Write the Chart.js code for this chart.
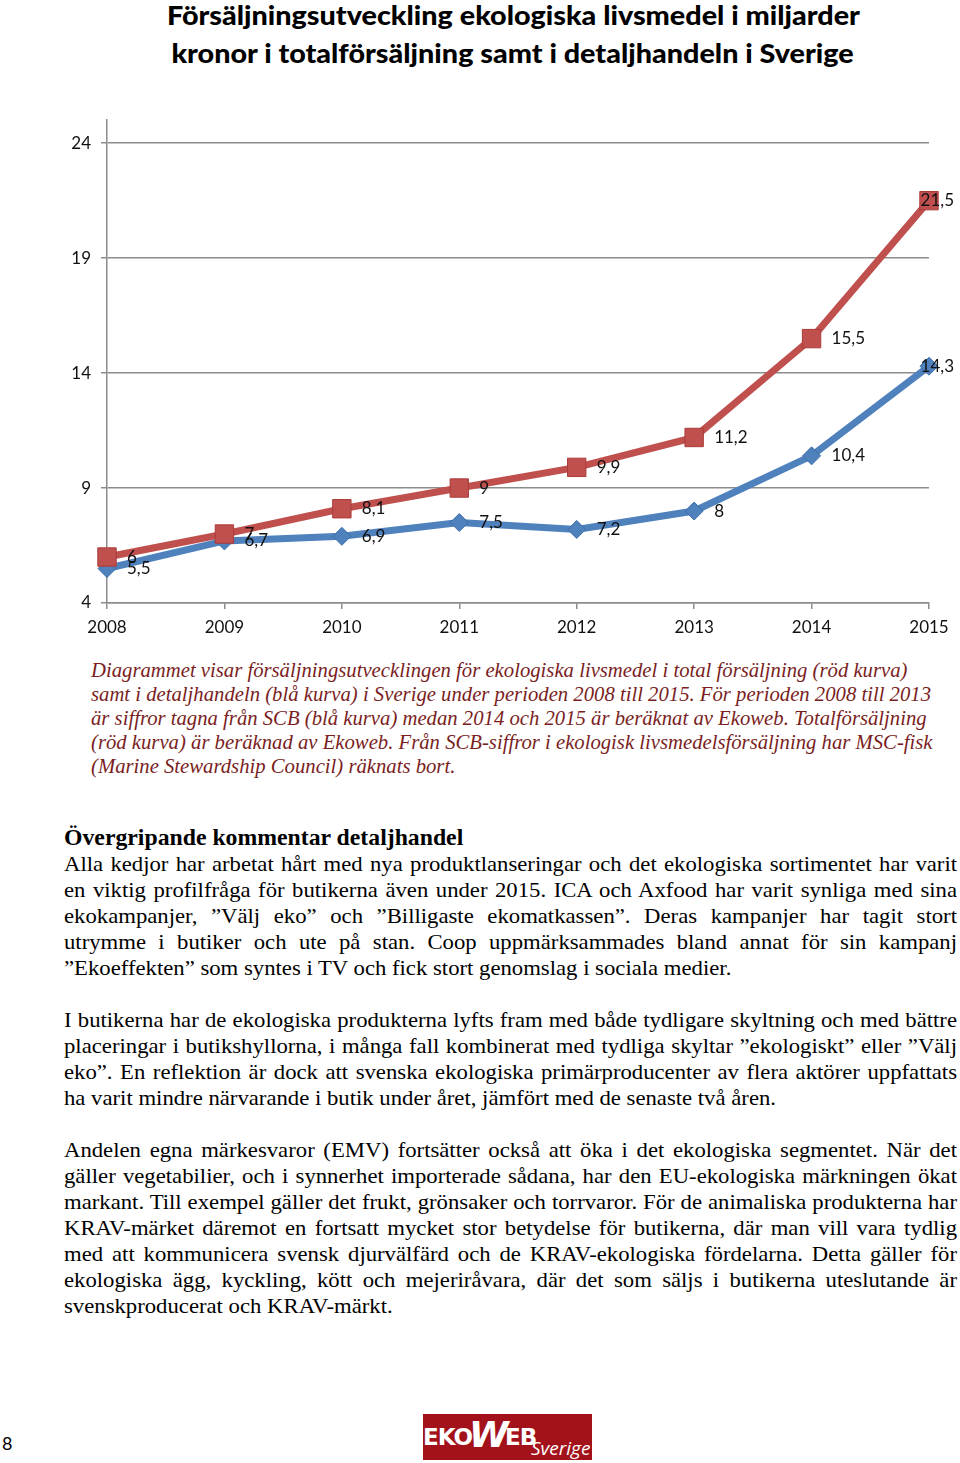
<!DOCTYPE html>
<html lang="sv">
<head>
<meta charset="utf-8">
<title>Försäljningsutveckling ekologiska livsmedel</title>
<script src="https://cdn.jsdelivr.net/npm/chart.js@4.4.1/dist/chart.umd.min.js"></script>
<style>
html, body { margin: 0; padding: 0; background: #fff; }
body { width: 960px; height: 1463px; position: relative; overflow: hidden; color: #000; }
.blk { position: absolute; transform-origin: 0 0; white-space: nowrap; }
.ln span { white-space: pre; }
#title { left: 33px; top: -4px; width: 960px; font-family: Lato, sans-serif; font-weight: 900;
  font-size: 26px; line-height: 38px; text-align: center; }
#title span { display: inline-block; transform-origin: 50% 50%; }
#chartBox { position: absolute; left: 60px; top: 100px; width: 900px; height: 545px; }
#caption { left: 91px; top: 658px; font-family: "Liberation Serif", serif; font-style: italic;
  font-size: 21px; line-height: 24px; color: #7a1e1e; }
#body { left: 64px; top: 825px; font-family: "Liberation Serif", serif; font-size: 22px; line-height: 26px; }
#body h2 { margin: 0; font-size: 23px; font-weight: bold; line-height: 26px; }
#body .par { margin-bottom: 26px; }
#pageno { position: absolute; left: 2px; top: 1432px; font-family: Lato, sans-serif; font-size: 18px; }
#logo { position: absolute; left: 423px; top: 1414px; width: 169px; height: 46px; background: #a3121a;
  color: #fff; overflow: hidden; font-family: "DejaVu Sans", sans-serif; }
#logo span { position: absolute; }
</style>
</head>
<body>

<div id="title" class="blk">
  <div class="ln"><span>Försäljningsutveckling ekologiska livsmedel i miljarder</span></div>
  <div class="ln"><span>kronor i totalförsäljning samt i detaljhandeln i Sverige</span></div>
</div>

<div id="chartBox"><canvas id="chart" width="900" height="545"></canvas></div>

<div id="caption" class="blk">
  <div class="ln"><span>Diagrammet visar försäljningsutvecklingen för ekologiska livsmedel i total försäljning (röd kurva)</span></div>
  <div class="ln" id="capRef"><span>samt i detaljhandeln (blå kurva) i Sverige under perioden 2008 till 2015. För perioden 2008 till 2013</span></div>
  <div class="ln"><span>är siffror tagna från SCB (blå kurva) medan 2014 och 2015 är beräknat av Ekoweb. Totalförsäljning</span></div>
  <div class="ln"><span>(röd kurva) är beräknad av Ekoweb. Från SCB-siffror i ekologisk livsmedelsförsäljning har MSC-fisk</span></div>
  <div class="ln"><span>(Marine Stewardship Council) räknats bort.</span></div>
</div>

<div id="body" class="blk">
  <h2>Övergripande kommentar detaljhandel</h2>
  <div class="par">
    <div class="ln j"><span>Alla kedjor har arbetat hårt med nya produktlanseringar och det ekologiska sortimentet har varit</span></div>
    <div class="ln j"><span>en viktig profilfråga för butikerna även under 2015. ICA och Axfood har varit synliga med sina</span></div>
    <div class="ln j"><span>ekokampanjer, ”Välj eko” och ”Billigaste ekomatkassen”. Deras kampanjer har tagit stort</span></div>
    <div class="ln j"><span>utrymme i butiker och ute på stan. Coop uppmärksammades bland annat för sin kampanj</span></div>
    <div class="ln last" data-w="667"><span>”Ekoeffekten” som syntes i TV och fick stort genomslag i sociala medier.</span></div>
  </div>
  <div class="par">
    <div class="ln j"><span>I butikerna har de ekologiska produkterna lyfts fram med både tydligare skyltning och med bättre</span></div>
    <div class="ln j"><span>placeringar i butikshyllorna, i många fall kombinerat med tydliga skyltar ”ekologiskt” eller ”Välj</span></div>
    <div class="ln j"><span>eko”. En reflektion är dock att svenska ekologiska primärproducenter av flera aktörer uppfattats</span></div>
    <div class="ln last" data-w="709"><span>ha varit mindre närvarande i butik under året, jämfört med de senaste två åren.</span></div>
  </div>
  <div class="par">
    <div class="ln j"><span>Andelen egna märkesvaror (EMV) fortsätter också att öka i det ekologiska segmentet. När det</span></div>
    <div class="ln j"><span>gäller vegetabilier, och i synnerhet importerade sådana, har den EU-ekologiska märkningen ökat</span></div>
    <div class="ln j"><span>markant. Till exempel gäller det frukt, grönsaker och torrvaror. För de animaliska produkterna har</span></div>
    <div class="ln j"><span>KRAV-märket däremot en fortsatt mycket stor betydelse för butikerna, där man vill vara tydlig</span></div>
    <div class="ln j"><span>med att kommunicera svensk djurvälfärd och de KRAV-ekologiska fördelarna. Detta gäller för</span></div>
    <div class="ln j"><span>ekologiska ägg, kyckling, kött och mejeriråvara, där det som säljs i butikerna uteslutande är</span></div>
    <div class="ln last" data-w="332"><span>svenskproducerat och KRAV-märkt.</span></div>
  </div>
</div>

<div id="pageno">8</div>

<div id="logo">
  <span style="left:0px; top:10px; font-size:23px; font-weight:bold; letter-spacing:-1px;">EKO</span>
  <span style="left:46px; top:0px; font-size:36px; font-weight:bold; font-style:italic;">W</span>
  <span style="left:82px; top:10px; font-size:23px; font-weight:bold; letter-spacing:-1px;">EB</span>
  <span style="left:108px; top:21px; font-size:19px; font-style:italic; font-family:'Open Sans', sans-serif;">Sverige</span>
</div>

<script>
// values (miljarder kronor)
var years = ["2008", "2009", "2010", "2011", "2012", "2013", "2014", "2015"];
var totalSales = [6, 7, 8.1, 9, 9.9, 11.2, 15.5, 21.5];
var retailSales = [5.5, 6.7, 6.9, 7.5, 7.2, 8, 10.4, 14.3];
var yTicks = [4, 9, 14, 19, 24];

var red = "rgb(192, 80, 77)";
var blue = "rgb(79, 129, 189)";
var gridGray = "#8c8c8c";

// number labels to the right of every point, pushed inside at the right edge
var valueLabels = {
    id: "valueLabels",
    afterDatasetsDraw(chart) {
        var ctx = chart.ctx;
        ctx.save();
        ctx.font = "17px Lato";
        ctx.fillStyle = "#111";
        ctx.textAlign = "left";
        ctx.textBaseline = "middle";
        chart.data.datasets.forEach((ds, i) => {
            chart.getDatasetMeta(i).data.forEach((pt, j) => {
                var txt = String(ds.data[j]).replace(".", ",");
                var w = ctx.measureText(txt).width;
                var x = pt.x + 20;
                if (x + w > chart.width - 6) x = chart.width - 6 - w;
                ctx.fillText(txt, x, pt.y);
            });
        });
        ctx.restore();
    }
};

var ctx = document.getElementById("chart").getContext("2d");
var myChart = new Chart(ctx, {
    type: "line",
    data: {
        labels: years,
        datasets: [{
            label: "Totalförsäljning",
            data: totalSales,
            borderColor: red,
            backgroundColor: red,
            borderWidth: 7,
            pointStyle: "rect",
            pointRadius: 13,
            pointBackgroundColor: red,
            pointBorderColor: "rgb(170, 60, 58)",
            pointBorderWidth: 1,
            tension: 0
        }, {
            label: "Detaljhandeln",
            data: retailSales,
            borderColor: blue,
            backgroundColor: blue,
            borderWidth: 7,
            pointStyle: "rectRot",
            pointRadius: 9,
            pointBackgroundColor: blue,
            pointBorderColor: "rgb(60, 110, 170)",
            pointBorderWidth: 1,
            tension: 0
        }]
    },
    options: {
        responsive: false,
        animation: false,
        layout: { padding: { top: 0, right: 31, bottom: 0, left: 0 } },
        plugins: {
            legend: { display: false },
            tooltip: { enabled: false }
        },
        scales: {
            x: {
                offset: false,
                afterFit: (scale) => { scale.height = 42; },
                grid: { drawOnChartArea: false, drawTicks: true, tickLength: 6, color: gridGray, lineWidth: 1.5 },
                border: { color: gridGray, width: 1.5 },
                ticks: { color: "#111", font: { family: "Lato", size: 17 }, padding: 8, maxRotation: 0, autoSkip: false }
            },
            y: {
                min: 4,
                max: 25,
                afterBuildTicks: (scale) => { scale.ticks = yTicks.map(v => ({ value: v })); },
                afterFit: (scale) => { scale.width = 47; },
                grid: { color: gridGray, lineWidth: 1.5, tickLength: 6 },
                border: { color: gridGray, width: 1.5 },
                ticks: { color: "#111", font: { family: "Lato", size: 17 }, padding: 10 }
            }
        }
    },
    plugins: [valueLabels]
});

// squeeze the text blocks horizontally the way the scanned page is
function spanWidth(el) { return el.querySelector("span").getBoundingClientRect().width; }

var titleLines = document.querySelectorAll("#title span");
var ts = 693 / titleLines[0].getBoundingClientRect().width;
titleLines.forEach(s => { s.style.transform = "scaleX(" + ts + ")"; });

var cap = document.getElementById("caption");
var cs = 840 / spanWidth(document.getElementById("capRef"));
cap.style.transform = "scaleX(" + cs + ")";

var body = document.getElementById("body");
var want = 0, got = 0;
body.querySelectorAll(".last").forEach(el => { want += +el.dataset.w; got += spanWidth(el); });
var bs = want / got;
var full = 893 / bs;
body.style.width = full + "px";
body.querySelectorAll(".j").forEach(el => {
    var span = el.querySelector("span");
    var gaps = (span.textContent.match(/ /g) || []).length;
    var ws = (full - spanWidth(el)) / gaps;
    span.style.wordSpacing = ws + "px";
});
body.style.transform = "scaleX(" + bs + ")";
</script>
</body>
</html>
